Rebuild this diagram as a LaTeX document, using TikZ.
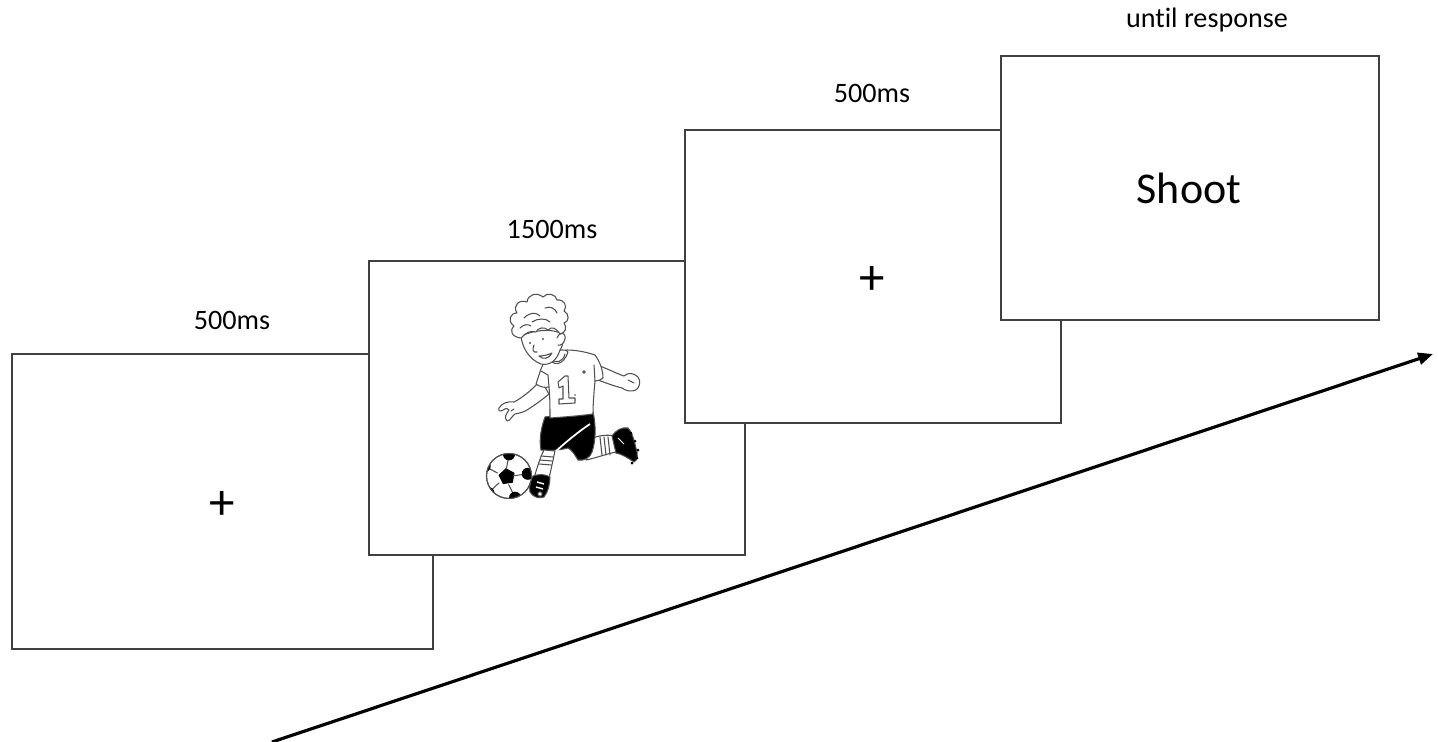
\documentclass[tikz,border=0pt]{standalone}
\usepackage{fontspec}
\setmainfont{Carlito}[Ligatures=NoCommon]
\usetikzlibrary{arrows.meta}
\definecolor{frame}{HTML}{404040}
\definecolor{sketch}{HTML}{505050}
\begin{document}
\begin{tikzpicture}[x=0.01cm,y=-0.01cm,
  screen/.style={draw=frame,fill=white,line width=0.5pt,outer sep=0pt,inner sep=0pt,anchor=north west},
  lab/.style={font=\fontsize{8}{9.6}\selectfont,anchor=base,inner sep=0pt},
  big/.style={font=\fontsize{12.5}{15}\selectfont,inner sep=0pt},
  cross/.style={font=\fontsize{14.5}{17}\selectfont,inner sep=0pt},
  ink/.style={draw=sketch,line width=0.3pt,line join=round,line cap=round},
  solid ink/.style={ink,fill=black},
]
\useasboundingbox (0,0) rectangle (1438,742);

% --- time axis ---
\coordinate (t0) at (272,742);
\coordinate (t1) at (1433,354);
\draw[line width=0.9pt,-{Triangle[length=4.2pt,width=3.4pt]}] (t0) -- (t1);

% --- screen 1: fixation ---
\node[screen,minimum width=4.21cm,minimum height=2.95cm] (s1) at (12,354) {};
\node[lab] (l1) at (232,329) {500ms};
\node[cross] (f1) at (222,505) {+};

% --- screen 2: picture ---
\node[screen,minimum width=3.76cm,minimum height=2.94cm] (s2) at (369,261) {};
\node[lab] (l2) at (552,238) {1500ms};

% --- screen 3: fixation ---
\node[screen,minimum width=3.76cm,minimum height=2.93cm] (s3) at (685,130) {};
\node[lab] (l3) at (872,102) {500ms};
\node[cross] (f3) at (872,280) {+};

% --- screen 4: response prompt ---
\node[screen,minimum width=3.78cm,minimum height=2.64cm] (s4) at (1001,56) {};
\node[lab] (l4) at (1207,27) {unt\kern0pt il response};
\node[big,anchor=base] (w4) at (1189,203) {Shoot};

% --- the kicking boy ---
\begin{scope}
  % right arm and hand
  \draw[ink,fill=white] (600,366) .. controls (610,370) and (618,374) .. (624,376)
     .. controls (628,372) and (634,373) .. (638,377)
     .. controls (641,381) and (640,387) .. (636,390)
     .. controls (631,392) and (626,391) .. (622,388)
     .. controls (614,386) and (606,383) .. (598,380) -- cycle;
  \draw[ink] (628,380) -- (634,383);
  % left arm and hand
  \draw[ink,fill=white] (541,380) .. controls (532,390) and (522,398) .. (514,402)
     .. controls (508,401) and (502,403) .. (499,408)
     .. controls (498,411) and (500,412) .. (503,410)
     .. controls (506,408) and (508,408) .. (509,410)
     .. controls (506,414) and (504,418) .. (507,421)
     .. controls (510,421) and (512,416) .. (515,414)
     .. controls (520,413) and (524,412) .. (527,410)
     .. controls (535,405) and (543,399) .. (549,394) -- cycle;
  \draw[ink] (511,411) -- (514,409);
  % back leg: thigh, striped sock, boot
  \draw[ink,fill=white] (588,440) .. controls (596,436) and (606,434) .. (614,436)
     -- (616,452) .. controls (606,454) and (596,458) .. (586,460) -- cycle;
  \foreach \u in {0,4,8}
    \draw[ink] (600+\u,437) -- (602+\u,455);
  \draw[solid ink] (612,436) .. controls (616,430) and (622,427) .. (628,428)
     .. controls (632,432) and (634,440) .. (636,448)
     .. controls (638,454) and (638,460) .. (634,462)
     .. controls (628,458) and (622,454) .. (616,453) -- cycle;
  \foreach \p in {(631,433),(635,441),(638,450),(637,458),(632,463)}
    \fill[black] \p circle (1.5);
  \draw[draw=white,line width=0.3pt] (618,438) -- (624,444);
  % shorts
  \draw[solid ink] (545,417) .. controls (560,415) and (578,414) .. (593,412)
     .. controls (596,425) and (596,440) .. (592,452)
     .. controls (590,458) and (584,461) .. (578,460)
     .. controls (575,455) and (572,450) .. (568,448)
     .. controls (560,450) and (552,451) .. (541,450)
     .. controls (539,440) and (541,428) .. (545,417) -- cycle;
  \draw[white,line width=0.5pt] (555,452) .. controls (566,442) and (578,432) .. (590,424);
  % front leg: shin, striped sock, boot
  \draw[ink,fill=white] (544,450) -- (555,451)
     .. controls (553,460) and (551,470) .. (549,478)
     -- (534,478) .. controls (537,468) and (540,458) .. (544,450) -- cycle;
  \foreach \u in {0,4,8}
    \draw[ink] (541-\u*0.2,456+\u) -- (553-\u*0.2,457+\u);
  \draw[solid ink] (533,476) .. controls (539,474) and (545,474) .. (550,477)
     .. controls (550,484) and (548,492) .. (544,497)
     .. controls (539,499) and (533,497) .. (530,492)
     .. controls (529,486) and (530,480) .. (533,476) -- cycle;
  \draw[white,line width=0.4pt] (537,482) -- (544,484) (536,487) -- (543,489);
  \fill[white] (540,494) circle (2.2);
  \draw[ink] (540,494) circle (2.2);
  % shirt
  \draw[ink,fill=white] (548,356) .. controls (544,362) and (541,368) .. (540,372)
     -- (536,384) .. controls (540,387) and (545,388) .. (549,387)
     .. controls (550,398) and (550,408) .. (550,418)
     .. controls (564,417) and (578,416) .. (593,414)
     .. controls (593,404) and (594,392) .. (595,381)
     .. controls (598,381) and (601,380) .. (603,378)
     .. controls (603,370) and (600,362) .. (595,355)
     .. controls (586,352) and (576,350) .. (567,350) -- cycle;
  \draw[ink] (541,371) -- (548,375) (549,387) -- (548,375);
  \draw[ink] (594,365) -- (595,381);
  % number on the shirt
  \draw[ink] (558,382) -- (565,376) -- (568,376) -- (569,398) -- (575,398)
     -- (575,403) -- (559,404) -- (559,399) -- (563,399) -- (563,386) -- (559,388) -- cycle;
  \fill[sketch] (575,395) circle (0.9);
  \draw[ink] (584,372) circle (1.3);
  % collar and neck
  \draw[ink,fill=white] (548,357) .. controls (552,366) and (563,367) .. (568,352)
     .. controls (566,348) and (552,350) .. (548,357) -- cycle;
  \draw[ink] (551,359) .. controls (556,364) and (563,362) .. (565,354);
  % face
  \draw[ink,fill=white] (521,336) .. controls (522,348) and (530,360) .. (541,364)
     .. controls (550,366) and (557,360) .. (560,350)
     .. controls (563,346) and (564,340) .. (562,334)
     .. controls (552,328) and (534,330) .. (521,336) -- cycle;
  % ear
  \draw[ink,fill=white] (557,338) .. controls (560,331) and (566,332) .. (565,339)
     .. controls (564,344) and (560,346) .. (558,345);
  % eyes, nose, smile
  \fill[sketch] (530,343) circle (1.2);
  \fill[sketch] (543,339) circle (1.2);
  \draw[ink] (534,345) .. controls (532,350) and (533,353) .. (537,352);
  \draw[ink,fill=white] (539,356) .. controls (543,360) and (549,359) .. (552,353)
     .. controls (548,355) and (543,356) .. (539,356) -- cycle;
  % hair
  \draw[ink,fill=white] (521,338) .. controls (512,337) and (509,331) .. (514,326)
     .. controls (507,321) and (510,313) .. (517,313)
     .. controls (512,305) and (520,299) .. (527,302)
     .. controls (528,294) and (537,292) .. (543,297)
     .. controls (547,292) and (556,294) .. (557,300)
     .. controls (564,299) and (568,306) .. (564,311)
     .. controls (570,314) and (569,322) .. (564,323)
     .. controls (567,327) and (566,333) .. (560,334)
     .. controls (556,328) and (552,326) .. (548,330)
     .. controls (544,326) and (538,328) .. (536,332)
     .. controls (531,330) and (525,333) .. (521,338) -- cycle;
  \draw[ink] (524,318) .. controls (530,312) and (536,312) .. (540,316)
             (532,322) .. controls (538,318) and (546,318) .. (550,322)
             (545,308) .. controls (550,306) and (555,308) .. (557,313)
             (520,328) .. controls (524,324) and (528,324) .. (531,326);
  % ball
  \draw[ink,fill=white] (509,476) circle (22.5);
  \begin{scope}
    \clip (509,476) circle (22.5);
    \fill[black] (504,478) ++(-80:10) -- ++(28:10) -- ++(100:10) -- ++(172:10) -- ++(244:10) -- cycle;
    \foreach \a in {-80,-8,64,136,208} {
      \draw[ink] (505,477) ++(\a:8.5) -- ++(\a:9);
      \fill[black] (505,477) ++(\a:23) circle (6);
    }
  \end{scope}
  \draw[ink] (509,476) circle (22.5);
\end{scope}
\end{tikzpicture}
\end{document}
